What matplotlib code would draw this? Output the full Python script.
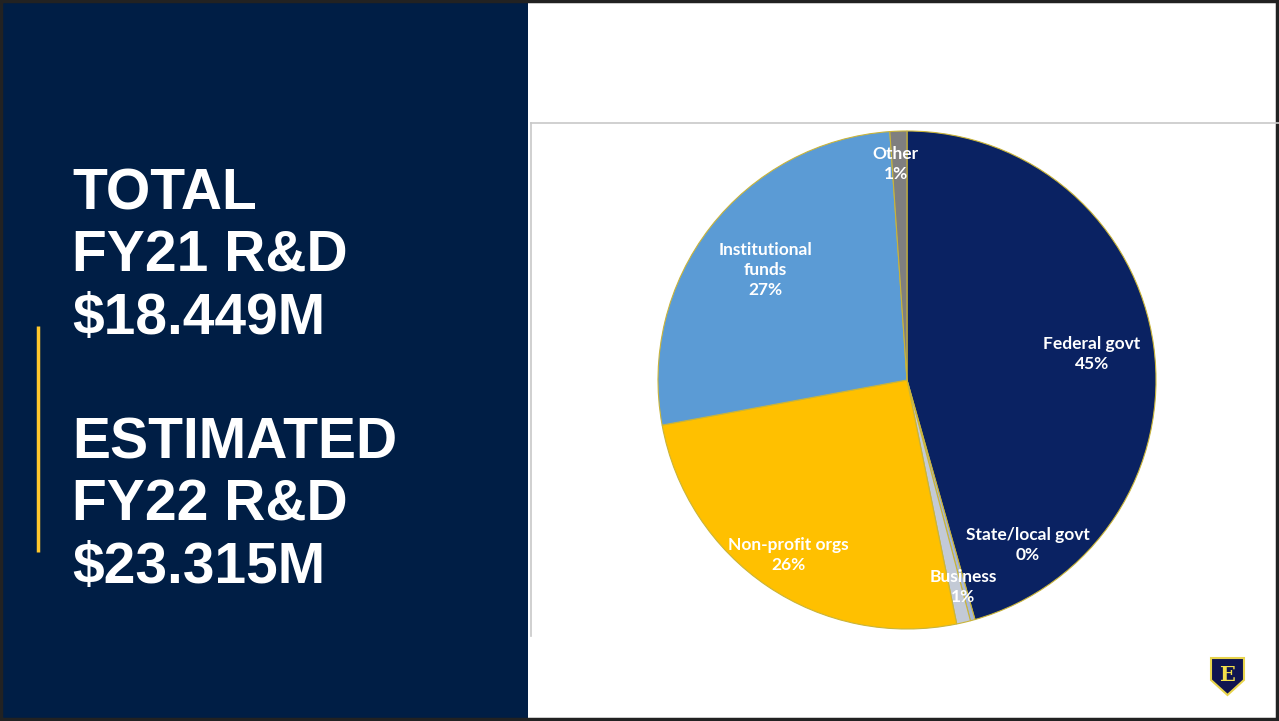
import matplotlib.pyplot as plt
import numpy as np
from matplotlib.patches import Rectangle, Polygon

# data
categories = ["Federal govt", "State/local govt", "Business", "Non-profit orgs",
              "Institutional\nfunds", "Other"]
shares = [45.6, 0.3, 0.9, 25.3, 26.8, 1.1]
pct_labels = ["45%", "0%", "1%", "26%", "27%", "1%"]
colors = ["#0a2262", "#a8b8d8", "#c3cad6", "#ffc000", "#5b9bd5", "#7f7f7f"]

# label placement (radius, angle nudge in degrees)
label_r = [0.75, 0.82, 0.86, 0.85, 0.72, 0.87]
label_nudge = [0, 21, 2, 0, 0, 1]

title_lines = ["TOTAL", "FY21 R&D", "$18.449M", "", "ESTIMATED", "FY22 R&D", "$23.315M"]

W, H = 1279, 721
fig = plt.figure(figsize=(W / 100, H / 100), dpi=100)
fig.patch.set_facecolor("white")

# slide background / panels
bg = fig.add_axes([0, 0, 1, 1])
bg.set_xlim(0, W)
bg.set_ylim(H, 0)
bg.axis("off")
bg.add_patch(Rectangle((0, 0), 528, H, facecolor="#001e45", edgecolor="none"))
bg.plot([531, W], [123, 123], color="#c8c8c8", lw=1.2)
bg.plot([531, 531], [123, 636], color="#c8c8c8", lw=1.2)
bg.plot([38, 38], [326, 552], color="#ffc72c", lw=2.5, solid_capstyle="butt")
bg.add_patch(Rectangle((1, 1), W - 3, H - 3, facecolor="none", edgecolor="#222222", lw=2.5))

y0 = 194
for i, line in enumerate(title_lines):
    if line:
        bg.text(72, y0 + i * 62.3, line, color="white", fontsize=41, fontweight="bold",
                family="Liberation Sans", va="center", ha="left")

# logo
shield = Polygon([(1211, 658), (1244, 658), (1244, 680), (1227.5, 695), (1211, 680)],
                 closed=True, facecolor="#0f1450", edgecolor="#e8d44d", lw=1.5)
bg.add_patch(shield)
bg.text(1227.5, 675, "E", color="#f2de4a", fontsize=15, fontweight="bold",
        family="DejaVu Serif", ha="center", va="center")

# pie
cx, cy, r = 907, 380, 249
ax = fig.add_axes([(cx - r) / W, 1 - (cy + r) / H, 2 * r / W, 2 * r / H])
wedges, _ = ax.pie(shares, colors=colors, startangle=90, counterclock=False,
                   radius=1, wedgeprops=dict(edgecolor="#c9b43a", linewidth=0.8))
ax.set_xlim(-1, 1)
ax.set_ylim(-1, 1)
ax.set_aspect("equal")
ax.axis("off")

for w, name, pct, lr, nd in zip(wedges, categories, pct_labels, label_r, label_nudge):
    mid = np.radians((w.theta1 + w.theta2) / 2 + nd)
    ax.text(lr * np.cos(mid), lr * np.sin(mid), name + "\n" + pct, color="white",
            fontsize=12.5, fontweight="bold", family="Lato", ha="center", va="center",
            linespacing=1.3)

fig.savefig("out.png", dpi=100)
